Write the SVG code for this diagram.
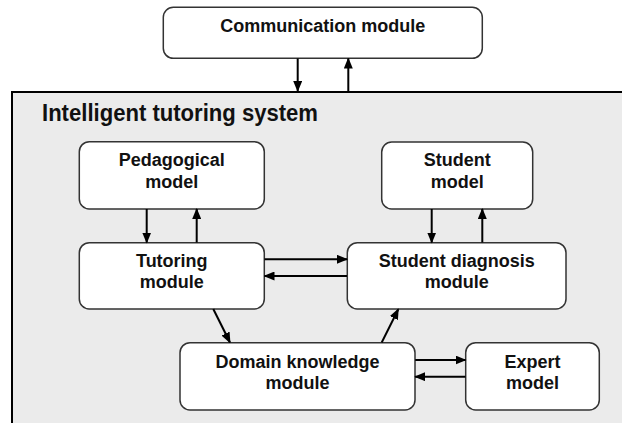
<svg xmlns="http://www.w3.org/2000/svg" width="622" height="423" viewBox="0 0 622 423">
<style>
.node rect{fill:#ffffff;stroke:#333333;stroke-width:1.5}
.node text,.title{font-family:"Liberation Sans",Arial,sans-serif;font-weight:bold;fill:#111111;text-anchor:middle}
.node text{font-size:18px}
.title{font-size:23px;text-anchor:start}
.conn line{stroke:#000000;stroke-width:2;marker-end:url(#ah)}
</style>
<defs>
<marker id="ah" markerUnits="userSpaceOnUse" markerWidth="11" markerHeight="9" refX="10" refY="4.5" orient="auto">
<path d="M0,0 L11,4.5 L0,9 Z" fill="#000000"/>
</marker>
</defs>
<rect width="622" height="423" fill="#ffffff"/>
<g id="its">
<rect x="12" y="92" width="620" height="340" fill="#ebebeb" stroke="#000000" stroke-width="2"/>
<text class="title" x="42" y="121" textLength="276" lengthAdjust="spacingAndGlyphs">Intelligent tutoring system</text>
</g>
<g id="communication" class="node">
<rect x="163.3" y="7.3" width="319" height="51" rx="10"/>
<text x="322.8" y="32">Communication module</text>
</g>
<g id="pedagogical" class="node">
<rect x="79.3" y="141.7" width="185" height="67.3" rx="10"/>
<text x="171.8" y="166">Pedagogical</text>
<text x="171.8" y="187.5">model</text>
</g>
<g id="student-model" class="node">
<rect x="381.7" y="142" width="151" height="67" rx="10"/>
<text x="457.2" y="166">Student</text>
<text x="457.2" y="187.5">model</text>
</g>
<g id="tutoring" class="node">
<rect x="79.3" y="242.7" width="185" height="66.3" rx="10"/>
<text x="171.8" y="266.7">Tutoring</text>
<text x="171.8" y="287.7">module</text>
</g>
<g id="diagnosis" class="node">
<rect x="347.3" y="242.7" width="218.7" height="66.3" rx="10"/>
<text x="456.7" y="266.7">Student diagnosis</text>
<text x="456.7" y="287.7">module</text>
</g>
<g id="domain" class="node">
<rect x="180" y="342.7" width="235" height="67.3" rx="10"/>
<text x="297.5" y="368.3">Domain knowledge</text>
<text x="297.5" y="389.3">module</text>
</g>
<g id="expert" class="node">
<rect x="465.7" y="342.7" width="133.6" height="67.3" rx="10"/>
<text x="532.5" y="368.3">Expert</text>
<text x="532.5" y="389.3">model</text>
</g>
<g id="connectors" class="conn">
<line x1="297.7" y1="58.5" x2="297.7" y2="91"/>
<line x1="348.3" y1="91" x2="348.3" y2="58.5"/>
<line x1="146.7" y1="209" x2="146.7" y2="242.5"/>
<line x1="196.7" y1="242.5" x2="196.7" y2="209"/>
<line x1="431.7" y1="209" x2="431.7" y2="242.5"/>
<line x1="482.3" y1="242.5" x2="482.3" y2="209"/>
<line x1="264.5" y1="259.3" x2="347" y2="259.3"/>
<line x1="347" y1="276" x2="264.5" y2="276"/>
<line x1="213.3" y1="309" x2="230" y2="342.5"/>
<line x1="381.7" y1="342.5" x2="398.3" y2="309.2"/>
<line x1="415.2" y1="360" x2="465.5" y2="360"/>
<line x1="465.5" y1="376.7" x2="415.2" y2="376.7"/>
</g>
</svg>
